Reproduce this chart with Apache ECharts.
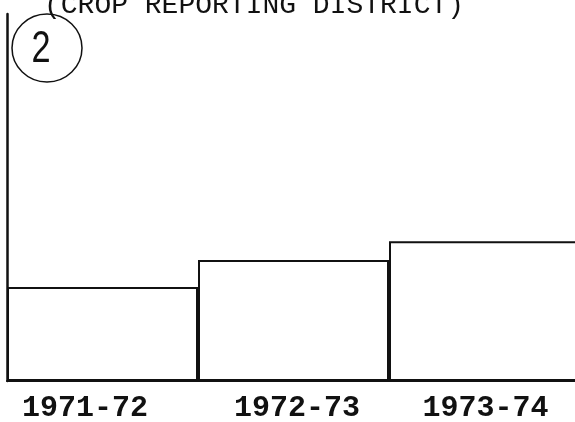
<!DOCTYPE html>
<html>
<head>
<meta charset="utf-8">
<script src="https://cdn.jsdelivr.net/npm/echarts@6/dist/echarts.min.js"></script>
<style>
  html, body { margin: 0; padding: 0; background: #fff; }
  #chart { width: 575px; height: 422px; }
</style>
</head>
<body>
<div id="chart"></div>
<script>
// values (no y scale printed; heights in % of the axis height)
var seasons = ['1971-72', '1972-73', '1973-74'];
var heights = [25.6, 33.0, 38.1];
var titleText = '(CROP REPORTING DISTRICT)';
var districtNo = '2';

// labels in the scan sit a little off their bar centres: [left, right] padding
var labelPad = [[0, 35], [7, 0], [2, 0]];

var chart = echarts.init(document.getElementById('chart'), null, { renderer: 'canvas' });

chart.setOption({
    animation: false,
    backgroundColor: '#fff',
    title: {
        text: titleText,
        left: 44,
        top: -8,
        padding: 0,
        textStyle: {
            fontFamily: 'Liberation Mono',
            fontWeight: 'normal',
            fontSize: 28,
            color: '#111'
        }
    },
    // the scan is cropped on the right, so the plot runs past the page edge
    grid: { left: 7, top: 14, width: 573, height: 367, outerBoundsMode: 'none' },
    xAxis: {
        type: 'category',
        data: seasons.map(function (s, i) {
            return { value: s, textStyle: { padding: [0, labelPad[i][1], 0, labelPad[i][0]] } };
        }),
        axisLine: { lineStyle: { color: '#111', width: 2 } },
        axisTick: { show: false },
        axisLabel: {
            margin: 12,
            fontFamily: 'Liberation Mono',
            fontWeight: 'bold',
            fontSize: 30,
            color: '#111'
        }
    },
    yAxis: {
        type: 'value',
        min: 0,
        max: 100,
        axisLine: { show: true, lineStyle: { color: '#111', width: 2.5 } },
        axisTick: { show: false },
        axisLabel: { show: false },
        splitLine: { show: false }
    },
    series: [{
        type: 'bar',
        data: heights,
        barWidth: '100%',
        barCategoryGap: '0%',
        itemStyle: { color: '#fff', borderColor: '#111', borderWidth: 2 }
    }],
    graphic: [{
        type: 'ellipse',
        shape: { cx: 47, cy: 48, rx: 35, ry: 34 },
        style: { fill: 'none', stroke: '#111', lineWidth: 1.5 }
    }, {
        type: 'text',
        x: 41,
        y: 50,
        scaleX: 0.78,
        style: {
            text: districtNo,
            font: '44px "Liberation Sans"',
            fill: '#111',
            align: 'center',
            verticalAlign: 'middle'
        }
    }]
});
</script>
</body>
</html>
